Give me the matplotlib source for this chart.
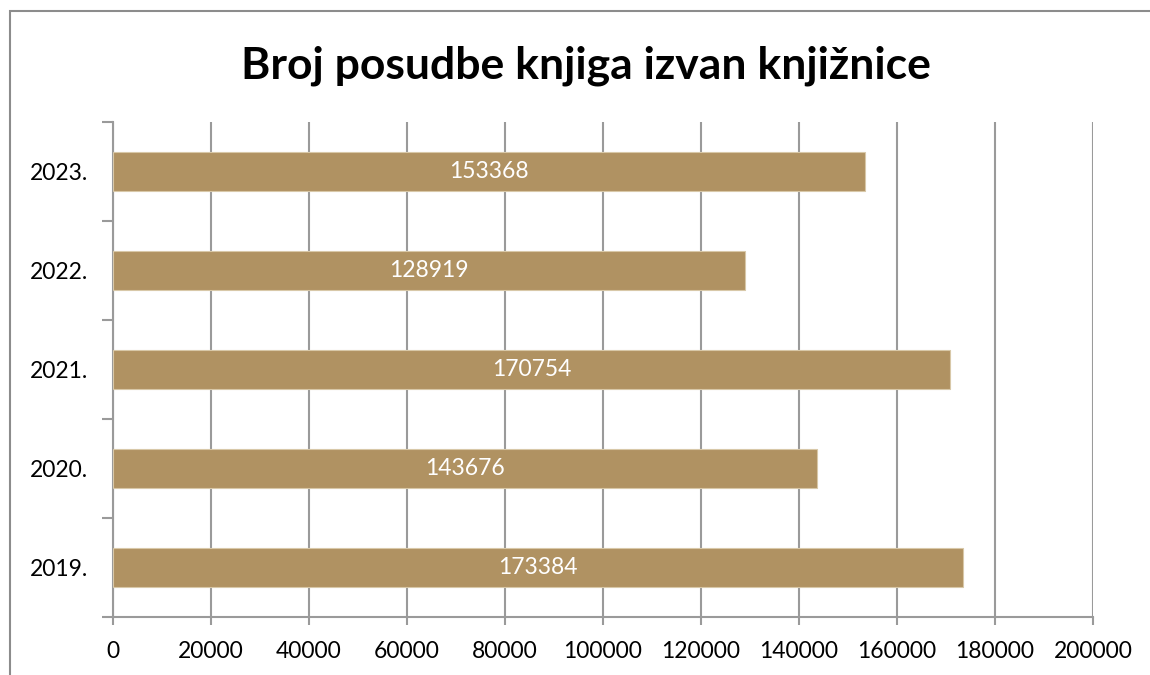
import matplotlib
matplotlib.use("Agg")
import matplotlib.pyplot as plt
from matplotlib.patches import Rectangle
import numpy as np

years = ["2019.", "2020.", "2021.", "2022.", "2023."]
values = [173384, 143676, 170754, 128919, 153368]
xticks = [0, 20000, 40000, 60000, 80000, 100000, 120000, 140000, 160000, 180000, 200000]
title = "Broj posudbe knjiga izvan knjižnice"

plt.rcParams['font.family'] = ['Lato', 'DejaVu Sans']

W, H = 1150, 675
fig = plt.figure(figsize=(W/100, H/100), dpi=100)
ax = fig.add_axes([113/W, 1-617/H, (1093-113)/W, (617-122)/H])

bar_color = "#B09262"
grid_color = "#9A9A9A"
fs = 16.5
y = np.arange(len(years))
ax.barh(y, values, height=0.4, color=bar_color, edgecolor="#D8C8A8", linewidth=0.8, zorder=3)
for yi, v in zip(y, values):
    ax.text(v/2, yi, str(v), ha="center", va="center", color="white", fontsize=fs, zorder=4)

ax.set_xlim(0, 200000)
ax.set_ylim(-0.5, len(years)-0.5)
ax.set_xticks(xticks)
ax.set_xticklabels([str(t) for t in xticks], fontsize=fs)
ax.set_yticks(y)
ax.set_yticklabels(years, fontsize=fs)
ax.tick_params(axis="y", which="major", length=0, pad=18)
ax.set_yticks(np.arange(-0.5, len(years), 1.0), minor=True)
ax.tick_params(axis="y", which="minor", length=8, color=grid_color, width=1.5, direction="out")
ax.tick_params(axis="x", length=6, color=grid_color, width=1.5, pad=11)
ax.grid(axis="x", color=grid_color, linewidth=1.5, zorder=0)
for s in ["top", "right"]:
    ax.spines[s].set_visible(False)
for s in ["left", "bottom"]:
    ax.spines[s].set_color(grid_color)
    ax.spines[s].set_linewidth(1.5)

fig.text(586/W, 1-66/H, title, ha="center", va="center", fontsize=32, fontweight="bold")

fig.patches.append(Rectangle((10/W, -0.1), 1.2, 1-11/H+0.1, transform=fig.transFigure,
                             fill=False, edgecolor="#8C8C8C", linewidth=1.5))

fig.savefig("out.png", dpi=100)
